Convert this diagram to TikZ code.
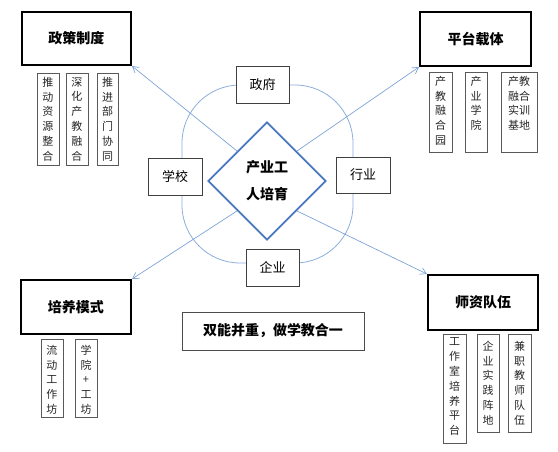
\documentclass[tikz,border=0pt]{standalone}
\usepackage{fontspec}
\setmainfont{Noto Sans CJK SC}
\usetikzlibrary{shapes.geometric,arrows.meta}
\definecolor{arrblue}{HTML}{7EA3D6}
\definecolor{diablue}{HTML}{4A78BE}
\definecolor{loopblue}{HTML}{8CAEDC}
\newcommand{\vcol}[3]{\begin{minipage}[c][#1][t]{#2}\centering\vspace*{4pt}#3\end{minipage}}
\begin{document}
\begin{tikzpicture}[x=1pt,y=-1pt,
  mainbox/.style={draw=black, line width=2pt, fill=white, inner sep=0pt,
    font=\fontsize{14}{16}\selectfont\bfseries},
  subbox/.style={draw=black!65, line width=0.8pt, fill=white, inner sep=0pt,
    text=black!85, font=\fontsize{11}{14.8}\selectfont},
  actor/.style={draw=black!75, line width=0.8pt, fill=white, inner sep=0pt,
    minimum width=53pt, minimum height=37pt, font=\fontsize{13}{15}\selectfont},
  arr/.style={draw=arrblue, line width=0.7pt, -{Straight Barb[length=6pt,width=7pt]}},
]
\useasboundingbox (0,0) rectangle (558,452);

% loop
\node (loop) [draw=loopblue, line width=0.8pt, rounded corners=58pt,
  minimum width=171pt, minimum height=178pt, inner sep=0pt] at (267.5,174) {};

% corner main boxes
\node (zc) [mainbox, minimum width=109pt, minimum height=53pt] at (76.5,38.5) {政策制度};
\node (pt) [mainbox, minimum width=111pt, minimum height=54pt] at (475.5,39) {平台载体};
\node (py) [mainbox, minimum width=110pt, minimum height=54pt] at (76,307) {培养模式};
\node (sz) [mainbox, minimum width=110pt, minimum height=55pt] at (483,302.5) {师资队伍};

% sub boxes
\node (a1) [subbox] at (48,119) {\vcol{92pt}{22pt}{推\\动\\资\\源\\整\\合}};
\node (a2) [subbox] at (77,119) {\vcol{92pt}{22pt}{深\\化\\产\\教\\融\\合}};
\node (a3) [subbox] at (107.5,119) {\vcol{92pt}{21pt}{推\\进\\部\\门\\协\\同}};

\node (b1) [subbox] at (440.5,112) {\vcol{80pt}{23pt}{产\\教\\融\\合\\园}};
\node (b2) [subbox] at (476,112) {\vcol{80pt}{22pt}{产\\业\\学\\院}};
\node (b3) [subbox] at (519,112) {\vcol{80pt}{36pt}{产教\\融合\\实训\\基地}};

\node (c1) [subbox] at (52,378) {\vcol{78pt}{22pt}{\vspace*{2pt}流\\动\\工\\作\\坊}};
\node (c2) [subbox] at (86,378) {\vcol{78pt}{22pt}{\vspace*{2pt}学\\院\\+\\工\\坊}};

\node (d1) [subbox] at (454.5,388.5) {\vcol{109pt}{23pt}{工\\作\\室\\培\\养\\平\\台}};
\node (d2) [subbox] at (488,383) {\vcol{98pt}{22pt}{\vspace*{3pt}企\\业\\实\\践\\阵\\地}};
\node (d3) [subbox] at (519.5,383) {\vcol{98pt}{23pt}{\vspace*{3pt}兼\\职\\教\\师\\队\\伍}};

% actors
\node (gov) [actor] at (262.5,84.5) {政府};
\node (sch) [actor, minimum width=54pt] at (175,176.5) {学校};
\node (ind) [actor, minimum width=54pt, minimum height=36pt] at (363,175) {行业};
\node (ent) [actor] at (272.5,267.5) {企业};

% diamond
\node (dia) [diamond, draw=diablue, line width=1.8pt, fill=white, inner sep=0pt,
  minimum width=118pt, minimum height=118pt, align=center,
  font=\fontsize{14}{27}\selectfont\bfseries] at (267,181) {产业工\\人培育};

% arrows
\draw[arr] (dia.north west) -- (zc.south east);
\draw[arr] (dia.north east) -- (pt.south west);
\draw[arr] (dia.south west) -- (py.north east);
\draw[arr] (dia.south east) -- (sz.north west);

% slogan
\node (slogan) [draw=black!70, line width=0.8pt, fill=white, inner sep=0pt,
  minimum width=182pt, minimum height=38pt,
  font=\fontsize{14}{16}\selectfont\bfseries] at (273,331) {双能并重，做学教合一};
\end{tikzpicture}
\end{document}
